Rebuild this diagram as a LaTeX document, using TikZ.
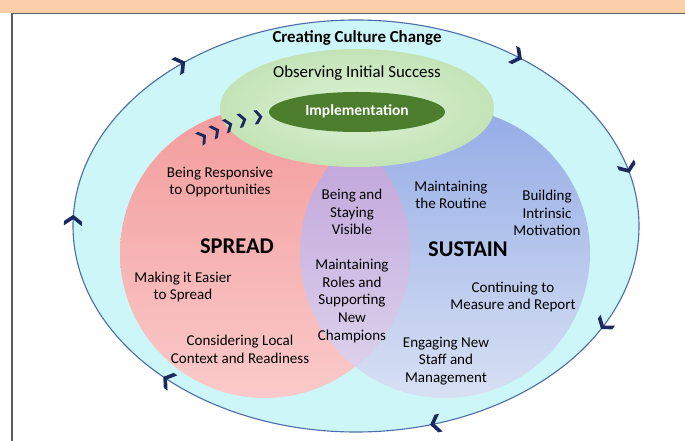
\documentclass[tikz,border=0pt]{standalone}
\usepackage{fontspec}
\setmainfont{Carlito}
\usetikzlibrary{calc}

\definecolor{bandpeach}{HTML}{FBCFAA}
\definecolor{framegray}{HTML}{5C5C5C}
\definecolor{ringfill}{HTML}{CDF6F8}
\definecolor{ringline}{HTML}{4F6FA8}
\definecolor{navy}{HTML}{1B2A5E}
\definecolor{spreadtop}{HTML}{F39C9C}
\definecolor{spreadbot}{HTML}{FBCACA}
\definecolor{sustaintop}{HTML}{94ACE6}
\definecolor{sustainbot}{HTML}{D8E0F3}
\definecolor{overlaptop}{HTML}{BC9DD8}
\definecolor{overlapbot}{HTML}{E0D7EE}
\definecolor{successin}{HTML}{DDF1D3}
\definecolor{successout}{HTML}{C3E4B7}
\definecolor{implgreen}{HTML}{4C7E2E}

\begin{document}
\begin{tikzpicture}[x=0.025cm, y=0.025cm,
  txt/.style={align=center, inner sep=0pt, font=\fontsize{10.7}{12.6}\selectfont},
  topline/.style={align=center, inner sep=0pt, font=\fontsize{12}{14}\selectfont},
  bigword/.style={inner sep=0pt, font=\bfseries\fontsize{16}{18}\selectfont},
  chevron/.pic={\fill[navy] (-7,9) -- (-2.5,9) -- (4,0) -- (-2.5,-9) -- (-7,-9) -- (-0.5,0) -- cycle;},
  smallchev/.pic={\fill[navy] (-5,7) -- (-1.5,7) -- (3.5,0) -- (-1.5,-7) -- (-5,-7) -- (0,0) -- cycle;},
]
  \useasboundingbox (0,0) rectangle (685,441);

  % page band and frame
  \fill[bandpeach] (0,428) rectangle (685,441);
  \draw[framegray, line width=1.3] (685,427.5) -- (12,427.5) -- (12,0);

  % outer ring
  \coordinate (O) at (356,215);
  \filldraw[fill=ringfill, draw=ringline, line width=0.8] (O) ellipse (283 and 206);

  % spread and sustain circles, with their overlap
  \coordinate (SP) at (265,188);
  \coordinate (SU) at (445,188);
  \shade[top color=sustaintop, bottom color=sustainbot] (SU) circle (145);
  \shade[top color=spreadtop, bottom color=spreadbot] (SP) circle (145);
  \begin{scope}
    \clip (SP) circle (145);
    \shade[top color=overlaptop, bottom color=overlapbot] (SU) circle (145);
  \end{scope}

  % initial success and implementation
  \coordinate (G) at (357,333);
  \shade[inner color=successin, outer color=successout] (G) ellipse (137 and 59);
  \fill[implgreen] (357,329) ellipse (88 and 20);

  % chevrons running clockwise round the ring
  \foreach \t in {128,55,16,-29,-74,-132,178}
    \pic[rotate={atan2(-206*cos(\t),283*sin(\t))}] at ($(O)+(\t:283 and 206)$) {chevron};

  % chevrons leading into implementation
  \foreach \p/\a in {(203,304)/32, (216,310)/27, (229,316)/21, (243,321)/14, (259,324)/6}
    \pic[rotate=\a] at \p {smallchev};

  % labels
  \node[topline, font=\bfseries\fontsize{12}{14}\selectfont] (culture) at (357,403) {Creating Culture Change};
  \node[topline] (success) at (357,368) {Observing Initial Success};
  \node[inner sep=0pt, text=white, font=\bfseries\fontsize{11}{13}\selectfont] (impl) at (357,330) {Implementation};

  \node[bigword] (spread) at (237,195) {SPREAD};
  \node[txt] (respond) at (220,259) {Being Responsive\\to Opportunities};
  \node[txt] (easier) at (183,154) {Making it Easier\\to Spread};
  \node[txt] (local) at (240,92) {Considering Local\\Context and Readiness};

  \node[txt] (visible) at (352,229) {Being and\\Staying\\Visible};
  \node[txt] (roles) at (352,140) {Maintaining\\Roles and\\Supporting\\New\\Champions};

  \node[bigword] (sustain) at (468,192) {SUSTAIN};
  \node[txt] (routine) at (451,246) {Maintaining\\the Routine};
  \node[txt] (intrinsic) at (547,228) {Building\\Intrinsic\\Motivation};
  \node[txt] (measure) at (513,144) {Continuing to\\Measure and Report};
  \node[txt] (engage) at (446,80) {Engaging New\\Staff and\\Management};
\end{tikzpicture}
\end{document}
